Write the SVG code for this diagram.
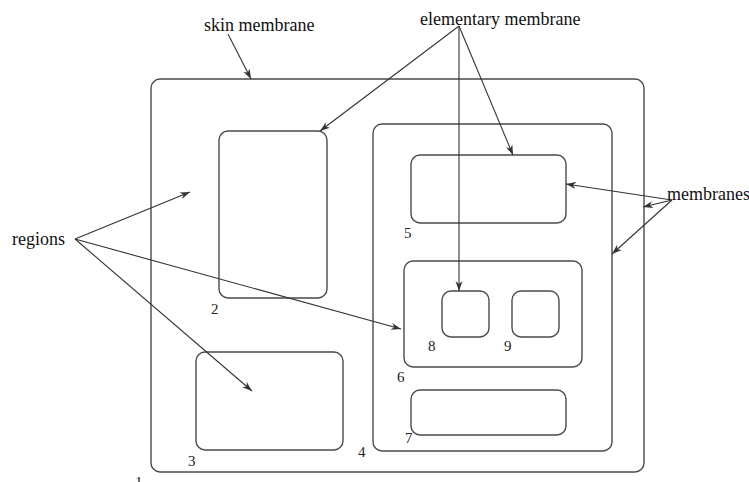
<svg xmlns="http://www.w3.org/2000/svg" width="749" height="482" viewBox="0 0 749 482">
<style>
.m{fill:none;stroke:#4a4a4a;stroke-width:1.4}
.c{fill:none;stroke:#333;stroke-width:1.1;marker-end:url(#ah)}
.lbl{font-family:"Liberation Serif",serif;font-size:18px;fill:#111}
.num{font-family:"Liberation Serif",serif;font-size:15px;fill:#222}
</style>
<defs>
<marker id="ah" viewBox="0 0 10 8" refX="10" refY="4" markerWidth="10" markerHeight="8" markerUnits="userSpaceOnUse" orient="auto">
<path d="M0,0.5 L10,4 L0,7.5 L3,4 Z" fill="#333"/>
</marker>
</defs>
<rect width="749" height="482" fill="#fff"/>
<g id="m1"><rect class="m" x="151" y="79" width="493" height="393" rx="9"/><text class="num" x="135" y="487">1</text></g>
<g id="m2"><rect class="m" x="219" y="131" width="108" height="167" rx="9"/><text class="num" x="211" y="314">2</text></g>
<g id="m3"><rect class="m" x="196" y="352" width="147" height="98" rx="9"/><text class="num" x="188" y="466">3</text></g>
<g id="m4"><rect class="m" x="373" y="124" width="239" height="327" rx="9"/><text class="num" x="358" y="457">4</text></g>
<g id="m5"><rect class="m" x="411" y="155" width="155" height="68" rx="9"/><text class="num" x="404" y="238">5</text></g>
<g id="m6"><rect class="m" x="404" y="261" width="178" height="106" rx="9"/><text class="num" x="397" y="382">6</text></g>
<g id="m7"><rect class="m" x="411" y="390" width="155" height="45" rx="9"/><text class="num" x="405" y="443">7</text></g>
<g id="m8"><rect class="m" x="442" y="291" width="47" height="46" rx="9"/><text class="num" x="428" y="351">8</text></g>
<g id="m9"><rect class="m" x="512" y="291" width="47" height="46" rx="9"/><text class="num" x="504" y="351">9</text></g>
<g id="labels">
<text class="lbl" x="204" y="31">skin membrane</text>
<text class="lbl" x="420" y="25">elementary membrane</text>
<text class="lbl" x="667" y="200">membranes</text>
<text class="lbl" x="12" y="245">regions</text>
</g>
<g id="connectors">
<path class="c" d="M228,34 L251,79"/>
<path class="c" d="M459,26 L320,131"/>
<path class="c" d="M459,26 L459,291"/>
<path class="c" d="M459,26 L513,155"/>
<path class="c" d="M672,200 L566,184"/>
<path class="c" d="M672,200 L643,207"/>
<path class="c" d="M672,200 L612,254"/>
<path class="c" d="M75,239 L190,192"/>
<path class="c" d="M75,239 L401,329"/>
<path class="c" d="M75,239 L252,391"/>
</g>
</svg>
